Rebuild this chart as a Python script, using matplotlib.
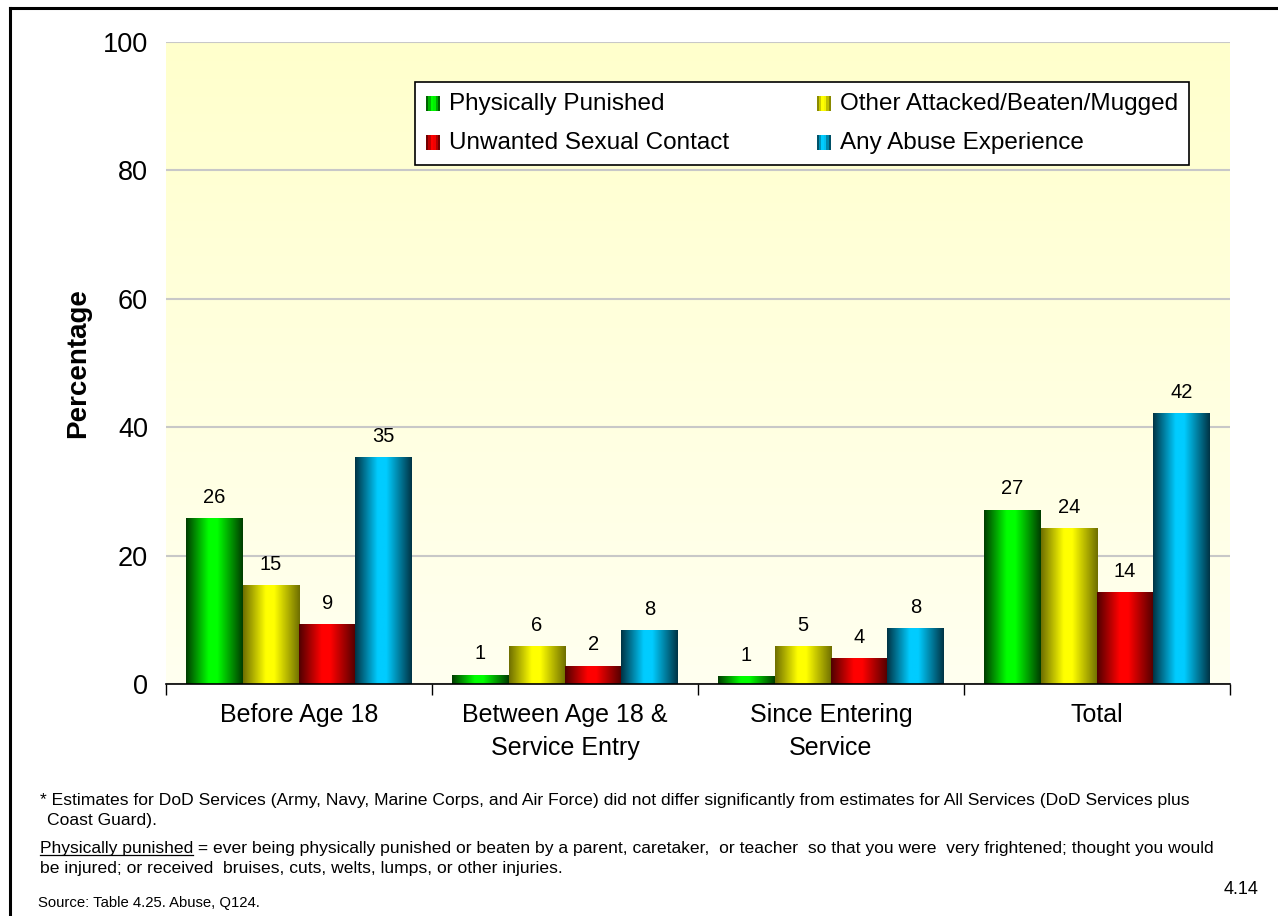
import numpy as np
import matplotlib
matplotlib.use("Agg")
import matplotlib.pyplot as plt
from matplotlib.colors import LinearSegmentedColormap
from matplotlib.lines import Line2D
from matplotlib.legend_handler import HandlerBase
from matplotlib.patches import Rectangle

# data
categories = ["Before Age 18", "Between Age 18 &\nService Entry", "Since Entering\nService", "Total"]
series = ["Physically Punished", "Other Attacked/Beaten/Mugged",
          "Unwanted Sexual Contact", "Any Abuse Experience"]
physically_punished = [25.8, 1.4, 1.1, 27.1]
other_attacked = [15.4, 5.9, 5.8, 24.2]
unwanted_sexual = [9.3, 2.8, 3.9, 14.2]
any_abuse = [35.3, 8.3, 8.7, 42.1]
label_punished = ["26", "1", "1", "27"]
label_attacked = ["15", "6", "5", "24"]
label_sexual = ["9", "2", "4", "14"]
label_any = ["35", "8", "8", "42"]
yticks = [0, 20, 40, 60, 80, 100]

values = [physically_punished, other_attacked, unwanted_sexual, any_abuse]
labels = [label_punished, label_attacked, label_sexual, label_any]
# (dark edge, bright center)
shades = [("#003c00", "#00ff00"), ("#6e6e00", "#ffff00"),
          ("#500000", "#ff0000"), ("#003344", "#00ccff")]

plt.rcParams["font.family"] = ["Liberation Sans", "DejaVu Sans"]
note_size = 12.6


def bar_cmap(dark, bright):
    return LinearSegmentedColormap.from_list(
        "g", [(0, dark), (0.4, bright), (0.55, bright), (1, dark)])


class GradHandler(HandlerBase):
    def __init__(self, cmap):
        super().__init__()
        self.cmap = cmap

    def create_artists(self, legend, orig, xd, yd, w, h, fs, trans):
        n = 6
        sw = w / n
        arts = []
        for i in range(n):
            r = Rectangle((xd + i * sw, yd), sw, h, facecolor=self.cmap((i + 0.5) / n),
                          edgecolor="none", transform=trans)
            arts.append(r)
        return arts


fig = plt.figure(figsize=(12.78, 9.16), dpi=100)
ax = fig.add_axes([0.1299, 0.2533, 0.8325, 0.7008])

# background gradient
bg = np.linspace(0, 1, 256).reshape(-1, 1)
bg_cmap = LinearSegmentedColormap.from_list("bg", ["#fffff0", "#ffffcc"])
ax.imshow(bg, cmap=bg_cmap, extent=[0, 1, 0, 1], transform=ax.transAxes,
          aspect="auto", origin="lower", zorder=0)

x = np.arange(len(categories))
w = 0.212
grad = np.linspace(0, 1, 256).reshape(1, -1)
handles = []
handler_map = {}
for i, (vals, labs, (dark, bright)) in enumerate(zip(values, labels, shades)):
    cmap = bar_cmap(dark, bright)
    bars = ax.bar(x + (i - 1.5) * w, vals, w, facecolor="none", edgecolor="none",
                  zorder=3, label=series[i])
    for b, lab in zip(bars, labs):
        x0, bw, bh = b.get_x(), b.get_width(), b.get_height()
        ax.imshow(grad, cmap=cmap, extent=[x0, x0 + bw, 0, bh], aspect="auto", zorder=3)
        ax.text(x0 + bw / 2, bh + 1.8, lab, ha="center", va="bottom", fontsize=14.5)
    h = Rectangle((0, 0), 1, 1)
    handles.append(h)
    handler_map[h] = GradHandler(cmap)

ax.set_xlim(-0.5, len(categories) - 0.5)
ax.set_ylim(0, 100)
ax.set_yticks(yticks)
ax.yaxis.grid(True, color="#c8c8c8", linewidth=1.5, zorder=1)
ax.set_axisbelow(True)
ax.tick_params(axis="y", length=0, labelsize=19.5, pad=13)
ax.set_xticks(x)
ax.set_xticklabels(categories, fontsize=18, linespacing=1.45)
ax.set_xticks(np.arange(len(categories) + 1) - 0.5, minor=True)
ax.tick_params(axis="x", which="major", length=0, pad=14)
ax.tick_params(axis="x", which="minor", length=8, width=1, color="black")
for s in ["left", "right", "top"]:
    ax.spines[s].set_visible(False)
ax.spines["bottom"].set_linewidth(1.2)
ax.spines["bottom"].set_zorder(5)
ax.set_ylabel("Percentage", fontsize=20, fontweight="bold")
ax.yaxis.set_label_coords(-0.0705, 0.5)

# legend fills column-wise, reference reads row-wise
order = [0, 2, 1, 3]
leg = ax.legend([handles[k] for k in order], [series[k] for k in order],
                handler_map=handler_map, ncol=2, loc="upper left",
                bbox_to_anchor=(0.234, 0.938), fontsize=17.5, frameon=True, fancybox=False,
                edgecolor="black", framealpha=1, handlelength=0.6, handleheight=0.55,
                handletextpad=0.35, columnspacing=3.6, labelspacing=0.7, borderpad=0.45,
                borderaxespad=0)
leg.get_frame().set_linewidth(1.2)
leg.set_zorder(6)

# footnotes
fig.text(40 / 1278, 1 - 801 / 916, "* Estimates for DoD Services (Army, Navy, Marine Corps, and Air Force) "
         "did not differ significantly from estimates for All Services (DoD Services plus",
         fontsize=note_size, va="center")
fig.text(47 / 1278, 1 - 821 / 916, "Coast Guard).", fontsize=note_size, va="center")
t1 = fig.text(40 / 1278, 1 - 848 / 916, "Physically punished", fontsize=note_size, va="center")
fig.canvas.draw()
bb = t1.get_window_extent().transformed(fig.transFigure.inverted())
fig.add_artist(Line2D([bb.x0, bb.x1], [bb.y0 + 0.001, bb.y0 + 0.001], color="black",
                      linewidth=0.9, transform=fig.transFigure))
fig.text(bb.x1, 1 - 848 / 916, " = ever being physically punished or beaten by a parent, caretaker,  "
         "or teacher  so that you were  very frightened; thought you would",
         fontsize=note_size, va="center")
fig.text(40 / 1278, 1 - 869 / 916, "be injured; or received  bruises, cuts, welts, lumps, or other injuries.",
         fontsize=note_size, va="center")
fig.text(38 / 1278, 1 - 903 / 916, "Source: Table 4.25. Abuse, Q124.", fontsize=10.7, va="center")
fig.text(1259 / 1278, 1 - 890 / 916, "4.14", fontsize=13, va="center", ha="right")

# page frame
fig.add_artist(Line2D([10 / 1278, 1], [1 - 8 / 916, 1 - 8 / 916], color="black",
                      linewidth=2.2, transform=fig.transFigure))
fig.add_artist(Line2D([10 / 1278, 10 / 1278], [0, 1 - 8 / 916], color="black",
                      linewidth=2.2, transform=fig.transFigure))

fig.savefig("out.png", dpi=100)
